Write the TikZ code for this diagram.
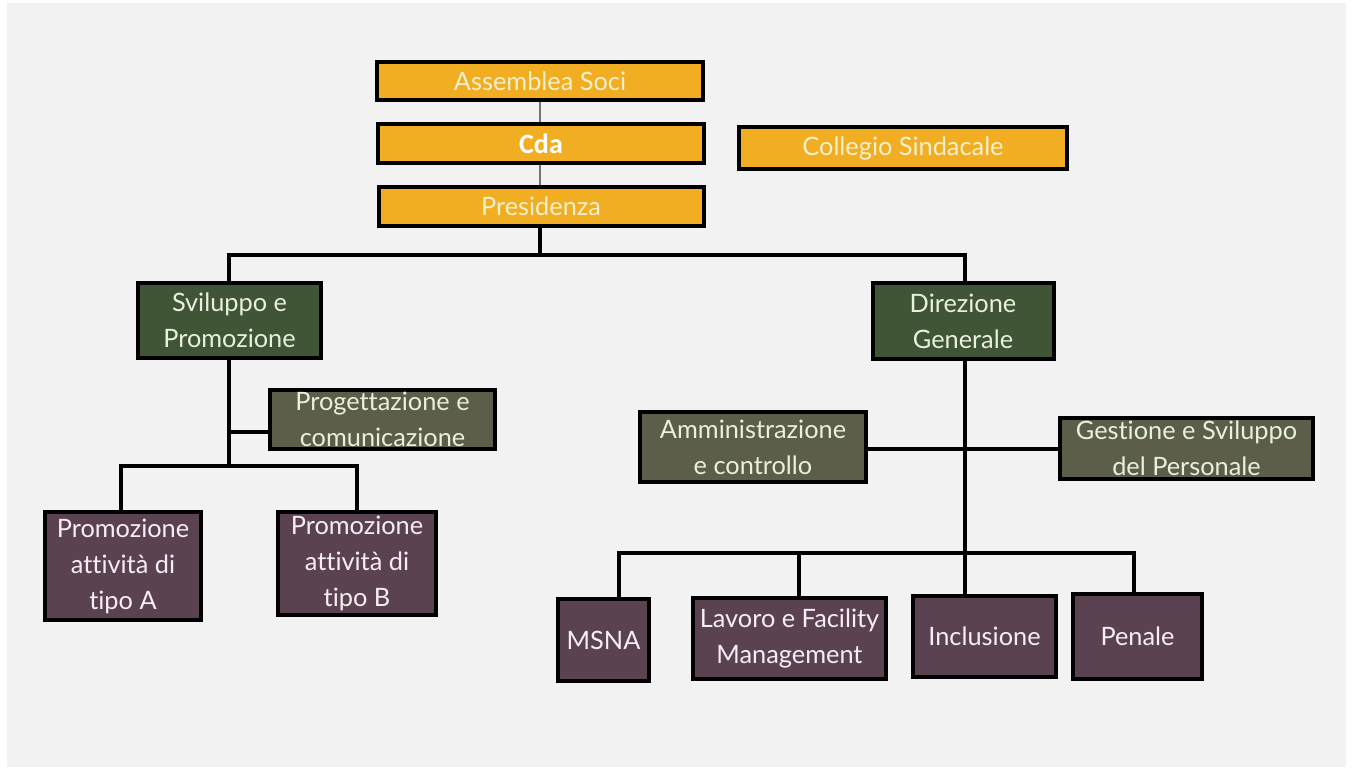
\documentclass[tikz,border=0pt]{standalone}
\usepackage{fontspec}
\setmainfont{Lato}[Ligatures=CommonOff]
\newfontfamily\cdafont{Carlito}
\definecolor{bgg}{HTML}{F2F2F2}
\definecolor{org}{HTML}{F1AE23}
\definecolor{orgtxt}{HTML}{F7F0CC}
\definecolor{dgreen}{HTML}{405535}
\definecolor{olive}{HTML}{5C5E4A}
\definecolor{purp}{HTML}{5B4250}
\definecolor{gtxt}{HTML}{E8F0DE}
\definecolor{ptxt}{HTML}{F6EEF2}
\tikzset{
  base/.style={draw=black, line width=3pt, align=center, inner sep=0pt,
    font=\fontsize{19}{27}\selectfont},
  orgbox/.style={base, fill=org, text=orgtxt},
  greenbox/.style={base, fill=dgreen, text=gtxt},
  olivebox/.style={base, fill=olive, text=gtxt},
  purpbox/.style={base, fill=purp, text=ptxt},
  conn/.style={line width=3pt, black},
  thin/.style={line width=1.5pt, black!55}
}
\begin{document}
\begin{tikzpicture}[x=0.75pt,y=-0.75pt]
\useasboundingbox (0,0) rectangle (1352,769);
\fill[white] (0,0) rectangle (1352,769);
\fill[bgg] (7,3) rectangle (1346,767);
% top boxes
\node[orgbox, minimum width=326*0.75pt, minimum height=38*0.75pt] (as) at (540,81) {\raisebox{-2pt}{Assemblea Soci}};
\node[orgbox, minimum width=326*0.75pt, minimum height=39*0.75pt, text=white] (cda) at (541,143.5) {\cdafont\bfseries\fontsize{21}{25}\selectfont Cda};
\node[orgbox, minimum width=325*0.75pt, minimum height=39*0.75pt] (pres) at (541,206.5) {\raisebox{-1pt}{Presidenza}};
\node[orgbox, minimum width=328*0.75pt, minimum height=42*0.75pt] (coll) at (903,148) {\raisebox{-1pt}{Collegio Sindacale}};
% thin connector behind top boxes
\begin{scope}[on background layer/.try]
\end{scope}
% level 2
\node[greenbox, minimum width=183*0.75pt, minimum height=75*0.75pt] (svil) at (229.5,320.5) {Sviluppo e\\Promozione};
\node[greenbox, minimum width=181*0.75pt, minimum height=76*0.75pt] (dir) at (963,321) {Direzione\\Generale};
% left branch
\node[olivebox, minimum width=225*0.75pt, minimum height=59*0.75pt] (prog) at (382.5,419.5) {Progettazione e\\comunicazione};
\node[purpbox, minimum width=156*0.75pt, minimum height=108*0.75pt] (pa) at (123,566) {Promozione\\attività di\\tipo A};
\node[purpbox, minimum width=158*0.75pt, minimum height=103*0.75pt] (pb) at (357,563.5) {Promozione\\attività di\\tipo B};
% right branch
\node[olivebox, minimum width=226*0.75pt, minimum height=70*0.75pt] (amm) at (753,447) {Amministrazione\\e controllo};
\node[olivebox, minimum width=253*0.75pt, minimum height=61*0.75pt] (ges) at (1186.5,448.5) {Gestione e Sviluppo\\del Personale};
\node[purpbox, minimum width=91*0.75pt, minimum height=82*0.75pt] (msna) at (603.5,640) {MSNA};
\node[purpbox, minimum width=193*0.75pt, minimum height=81*0.75pt] (lav) at (789.5,638.5) {Lavoro e Facility\\Management};
\node[purpbox, minimum width=143*0.75pt, minimum height=81*0.75pt] (inc) at (984.5,636.5) {Inclusione};
\node[purpbox, minimum width=129*0.75pt, minimum height=85*0.75pt] (pen) at (1137.5,636.5) {Penale};
% thin gray link between the top boxes
\draw[thin] (as.south -| 540,0) -- (cda.north -| 540,0);
\draw[thin] (cda.south -| 540,0) -- (pres.north -| 540,0);
% bus coordinates
\coordinate (b1) at (540,255);
\coordinate (b1l) at (229,255);
\coordinate (b1r) at (965,255);
\coordinate (b2) at (229,432);
\coordinate (b3) at (229,466);
\coordinate (b3l) at (121,466);
\coordinate (b3r) at (357,466);
\coordinate (b4) at (965,449);
\coordinate (b5) at (965,553);
\coordinate (d1) at (619,553);
\coordinate (d2) at (799,553);
\coordinate (d4) at (1134,553);
% connectors
\draw[conn] (pres.south -| b1) -- (b1);
\draw[conn] (b1l |- svil.north) -- (b1l) -- (b1r) -- (b1r |- dir.north);
\draw[conn] (b1l |- svil.south) -- (b3);
\draw[conn] (b2) -- (prog.west |- b2);
\draw[conn] (b3l |- pa.north) -- (b3l) -- (b3r) -- (b3r |- pb.north);
\draw[conn] (b1r |- dir.south) -- (b5);
\draw[conn] (amm.east |- b4) -- (ges.west |- b4);
\draw[conn] (d1 |- msna.north) -- (d1) -- (d4) -- (d4 |- pen.north);
\draw[conn] (d2) -- (d2 |- lav.north);
\draw[conn] (b5) -- (b5 |- inc.north);
\end{tikzpicture}
\end{document}
